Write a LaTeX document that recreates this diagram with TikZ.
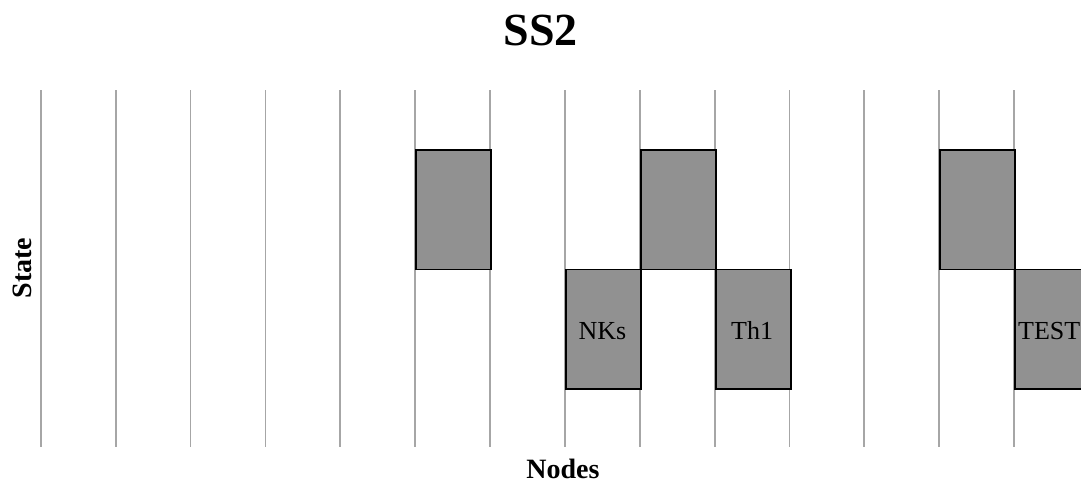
\documentclass[tikz,border=0pt]{standalone}
\usepackage{fontspec}
\setmainfont{Liberation Serif}
\begin{document}
\begin{tikzpicture}[x=1pt,y=-1pt,
  gridline/.style={draw=black!35,line width=1.8pt},
  statebox/.style={draw=black,line width=1.8pt,fill=black!43,minimum width=75pt,
    minimum height=119.5pt,inner sep=0pt,anchor=north west},
  boxlabel/.style={font=\fontsize{26}{30}\selectfont,inner sep=0pt,anchor=base},
  axislabel/.style={font=\bfseries\fontsize{28}{32}\selectfont}]
\useasboundingbox (0,0) rectangle (1081,491);
\clip (0,0) rectangle (1081,491);
% vertical grid lines
\foreach \i in {0,...,13}
  \draw[gridline] ({40.8+74.87*\i},90) -- ({40.8+74.87*\i},447);
% state boxes
\node[statebox] (b1) at (415.2,149) {};
\node[statebox] (b2) at (565.0,268.5) {};
\node[statebox] (b3) at (639.8,149) {};
\node[statebox] (b4) at (714.7,268.5) {};
\node[statebox] (b5) at (939.3,149) {};
\node[statebox,minimum width=85pt] (b6) at (1014.2,268.5) {};
% labels inside the boxes
\node[boxlabel] (l2) at (602.4,339) {NKs};
\node[boxlabel] (l4) at (752.1,339) {Th1};
\node[boxlabel,anchor=base west] (l6) at (1018,339) {TEST};
% titles
\node[font=\bfseries\fontsize{46}{50}\selectfont] (title) at (540.5,30) {SS2};
\node[axislabel] (xl) at (563,469) {Nodes};
\node[axislabel,rotate=90] (yl) at (22,268) {State};
\end{tikzpicture}
\end{document}
